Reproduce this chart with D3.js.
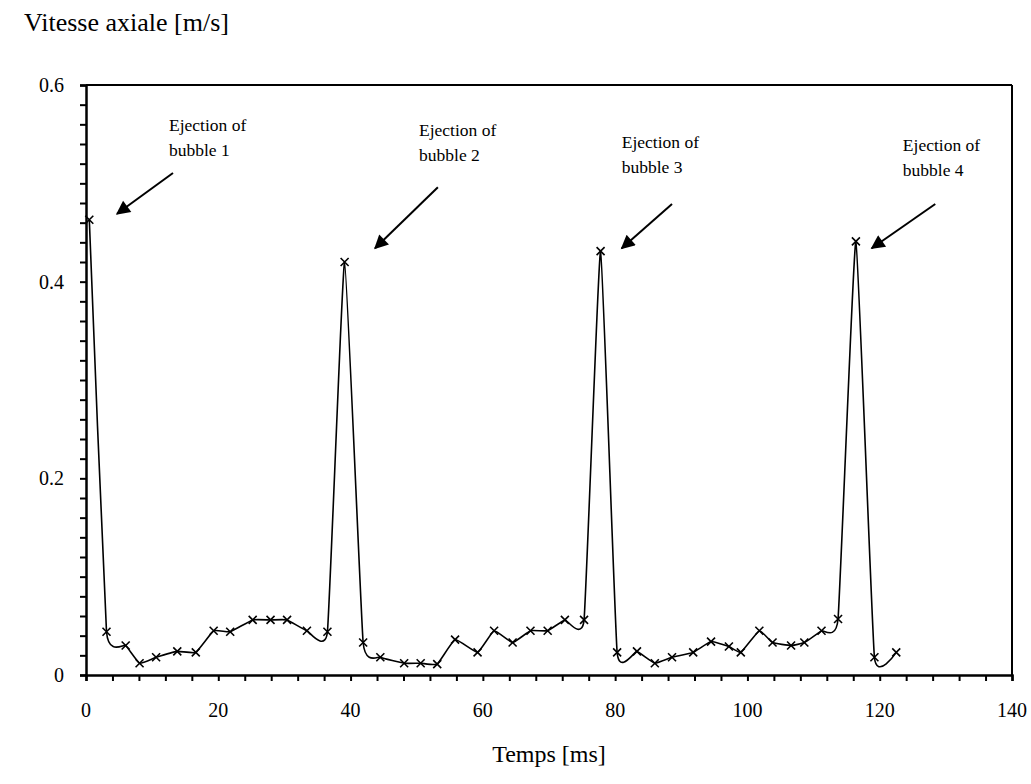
<!DOCTYPE html>
<html>
<head>
	<title>Vitesse axiale</title>
	<script src="https://d3js.org/d3.v7.min.js"></script>
	<style>
		body { margin: 0; background: #fff; }
		text { font-family: "Liberation Serif", "Times New Roman", serif; fill: #000; }
		.axis path, .axis line { stroke: #000; }
	</style>
</head>
<body>
<svg width="1031" height="784"></svg>

<script type="text/javascript">
// data
var temps = [0.5, 3.1, 6.0, 8.1, 10.6, 13.8, 16.6, 19.3, 21.8, 25.2,
	27.9, 30.4, 33.4, 36.5, 39.1, 41.9, 44.5, 48.1, 50.6, 53.1,
	55.8, 59.2, 61.7, 64.5, 67.2, 69.8, 72.4, 75.3, 77.8, 80.3,
	83.3, 86.0, 88.6, 91.8, 94.5, 97.2, 99.0, 101.8, 103.8, 106.6,
	108.6, 111.2, 113.7, 116.4, 119.2, 122.5];
var vitesse = [0.463, 0.044, 0.030, 0.012, 0.018, 0.024, 0.023, 0.045, 0.044, 0.056,
	0.056, 0.056, 0.045, 0.044, 0.420, 0.033, 0.018, 0.012, 0.012, 0.011,
	0.036, 0.023, 0.045, 0.033, 0.045, 0.045, 0.056, 0.056, 0.431, 0.023,
	0.024, 0.012, 0.018, 0.023, 0.034, 0.029, 0.023, 0.045, 0.033, 0.030,
	0.033, 0.045, 0.057, 0.441, 0.018, 0.023];

var xTicks = [0, 20, 40, 60, 80, 100, 120, 140];
var yTicks = [0, 0.2, 0.4, 0.6];

// annotations in data units: text anchor, arrow tail, arrow tip
var noteLabels = ['bubble 1', 'bubble 2', 'bubble 3', 'bubble 4'];
var noteText = [[12.55, 0.553], [50.35, 0.548], [81.0, 0.536], [123.5, 0.533]];
var noteTail = [[13.15, 0.5105], [53.2, 0.496], [88.6, 0.479], [128.4, 0.479]];
var noteTip = [[4.69, 0.469], [43.7, 0.434], [81.0, 0.434], [118.8, 0.434]];

var plotL = 86, plotR = 1012, plotT = 85, plotB = 675;

var x = d3.scaleLinear().domain([0, 140]).range([plotL, plotR]);
var y = d3.scaleLinear().domain([0, 0.6]).range([plotB, plotT]);

var svg = d3.select('svg');

// minor ticks
var xAxis = svg.append('g')
	.attr('class', 'axis')
	.attr('transform', 'translate(0,' + plotB + ')')
	.call(d3.axisBottom(x).tickValues(d3.range(0, 141, 4)).tickSize(6).tickFormat(''));
xAxis.select('.domain').attr('stroke-width', 2.5);
xAxis.selectAll('line').attr('stroke-width', 2);

svg.append('g')
	.attr('transform', 'translate(0,' + plotB + ')')
	.selectAll('text')
	.data(xTicks)
	.enter()
	.append('text')
	.attr('x', function(d) { return x(d); })
	.attr('y', 42)
	.attr('text-anchor', 'middle')
	.attr('font-size', 20)
	.text(function(d) { return d; });

var yAxis = svg.append('g')
	.attr('class', 'axis')
	.attr('transform', 'translate(' + plotL + ',0)')
	.call(d3.axisLeft(y).tickValues(d3.range(0, 31).map(function(i) { return i * 0.02; })).tickSize(6).tickFormat(''));
yAxis.select('.domain').attr('stroke-width', 2.5);
yAxis.selectAll('line').attr('stroke-width', 2);

svg.append('g')
	.selectAll('text')
	.data(yTicks)
	.enter()
	.append('text')
	.attr('x', 64)
	.attr('y', function(d) { return y(d) + 7; })
	.attr('text-anchor', 'end')
	.attr('font-size', 20)
	.text(function(d) { return d === 0 ? '0' : d.toFixed(1); });

// frame top / right
svg.append('line')
	.attr('x1', plotL).attr('x2', plotR)
	.attr('y1', plotT).attr('y2', plotT)
	.attr('stroke', '#000').attr('stroke-width', 2);
svg.append('line')
	.attr('x1', plotR).attr('x2', plotR)
	.attr('y1', plotT).attr('y2', plotB)
	.attr('stroke', '#000').attr('stroke-width', 2);

// curve
var points = temps.map(function(t, i) { return [t, vitesse[i]]; });

var line = d3.line()
	.x(function(d) { return x(d[0]); })
	.y(function(d) { return y(d[1]); })
	.curve(d3.curveCardinal.tension(0.65));

svg.append('path')
	.datum(points)
	.attr('d', line)
	.attr('fill', 'none')
	.attr('stroke', '#000')
	.attr('stroke-width', 1.6);

var s = 4;
svg.append('g')
	.selectAll('path')
	.data(points)
	.enter()
	.append('path')
	.attr('d', function(d) {
		var cx = x(d[0]), cy = y(d[1]);
		return 'M' + (cx - s) + ',' + (cy - s) + 'L' + (cx + s) + ',' + (cy + s) +
			'M' + (cx - s) + ',' + (cy + s) + 'L' + (cx + s) + ',' + (cy - s);
	})
	.attr('stroke', '#000')
	.attr('stroke-width', 1.6);

// arrows
svg.append('defs').append('marker')
	.attr('id', 'head')
	.attr('viewBox', '0 0 10 10')
	.attr('refX', 9).attr('refY', 5)
	.attr('markerWidth', 17).attr('markerHeight', 14)
	.attr('markerUnits', 'userSpaceOnUse')
	.attr('orient', 'auto')
	.append('path')
	.attr('d', 'M0,0L10,5L0,10Z')
	.attr('fill', '#000');

svg.append('g')
	.selectAll('line')
	.data(noteTail)
	.enter()
	.append('line')
	.attr('x1', function(d) { return x(d[0]); })
	.attr('y1', function(d) { return y(d[1]); })
	.attr('x2', function(d, i) { return x(noteTip[i][0]); })
	.attr('y2', function(d, i) { return y(noteTip[i][1]); })
	.attr('stroke', '#000')
	.attr('stroke-width', 2)
	.attr('marker-end', 'url(#head)');

var notes = svg.append('g')
	.selectAll('text')
	.data(noteText)
	.enter()
	.append('text')
	.attr('x', function(d) { return x(d[0]); })
	.attr('y', function(d) { return y(d[1]); })
	.attr('font-size', 17.5);
notes.append('tspan').text('Ejection of');
notes.append('tspan')
	.attr('x', function(d) { return x(d[0]); })
	.attr('dy', 25)
	.text(function(d, i) { return noteLabels[i]; });

// titles
svg.append('text')
	.attr('x', 24)
	.attr('y', 31)
	.attr('font-size', 26)
	.text('Vitesse axiale [m/s]');

svg.append('text')
	.attr('x', (plotL + plotR) / 2)
	.attr('y', 762)
	.attr('text-anchor', 'middle')
	.attr('font-size', 24)
	.text('Temps [ms]');
</script>
</body>
</html>
